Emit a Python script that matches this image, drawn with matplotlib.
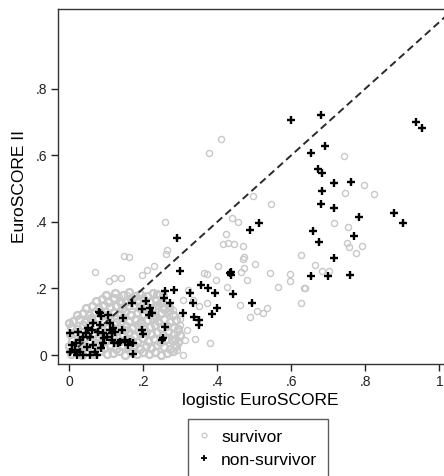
import matplotlib
matplotlib.use("Agg")
import matplotlib.pyplot as plt
from matplotlib.lines import Line2D

plt.rcParams['font.family'] = ['Liberation Sans', 'DejaVu Sans']

# ---------------- data ----------------
# survivors: scattered points
surv_sparse_x = [0.409, 0.378, 0.495, 0.544, 0.439, 0.455, 0.424, 0.415, 0.430, 0.446,
                 0.470, 0.473, 0.469, 0.403, 0.471, 0.502, 0.464, 0.364, 0.373, 0.396,
                 0.479, 0.541, 0.427, 0.565, 0.635, 0.461, 0.489, 0.508, 0.523, 0.535,
                 0.625, 0.742, 0.796, 0.824, 0.745, 0.716, 0.754, 0.751, 0.756, 0.790,
                 0.775, 0.626, 0.664, 0.684, 0.703, 0.596, 0.596, 0.636,
                 0.263, 0.261, 0.230, 0.209, 0.196, 0.308, 0.371, 0.317, 0.340, 0.380,
                 0.313, 0.290, 0.306, 0.299, 0.281, 0.259, 0.069, 0.148, 0.160, 0.108,
                 0.121, 0.141, 0.322, 0.335, 0.351, 0.285, 0.300, 0.290, 0.135, 0.155,
                 0.241]
surv_sparse_y = [0.648, 0.606, 0.478, 0.454, 0.410, 0.399, 0.362, 0.332, 0.335, 0.332,
                 0.328, 0.293, 0.287, 0.268, 0.262, 0.272, 0.248, 0.245, 0.242, 0.225,
                 0.224, 0.246, 0.203, 0.203, 0.202, 0.149, 0.115, 0.132, 0.125, 0.140,
                 0.157, 0.597, 0.511, 0.484, 0.486, 0.397, 0.383, 0.337, 0.325, 0.328,
                 0.307, 0.299, 0.269, 0.253, 0.253, 0.243, 0.221, 0.201,
                 0.315, 0.302, 0.268, 0.255, 0.240, 0.165, 0.155, 0.075, 0.047, 0.035,
                 0.045, 0.015, 0.000, 0.108, 0.135, 0.400, 0.248, 0.297, 0.295, 0.223,
                 0.230, 0.230, 0.195, 0.165, 0.147, 0.120, 0.090, 0.070, 0.175, 0.180,
                 0.180]

# survivors: the dense cluster near the origin
surv_dense_x = [
    0.005, 0.020, 0.034, 0.050, 0.068, 0.084, 0.101, 0.118, 0.134, 0.151, 0.168, 0.184, 0.199, 0.216, 0.232, 0.249, 0.264, 0.281,
    0.000, 0.014, 0.029, 0.044, 0.061, 0.078, 0.093, 0.109, 0.126, 0.142, 0.158, 0.176, 0.191, 0.207, 0.222, 0.238, 0.256, 0.271, 0.288,
    0.006, 0.022, 0.039, 0.055, 0.071, 0.087, 0.103, 0.119, 0.136, 0.152, 0.167, 0.183, 0.198, 0.214, 0.229, 0.245, 0.262, 0.277, 0.293,
    0.001, 0.016, 0.031, 0.048, 0.063, 0.080, 0.096, 0.112, 0.128, 0.144, 0.160, 0.175, 0.191, 0.206, 0.221, 0.237, 0.252, 0.268, 0.283, 0.298,
    0.004, 0.020, 0.036, 0.053, 0.070, 0.087, 0.104, 0.120, 0.137, 0.153, 0.170, 0.186, 0.201, 0.217, 0.232, 0.248, 0.263, 0.279, 0.294,
    0.000, 0.010, 0.026, 0.043, 0.060, 0.077, 0.094, 0.110, 0.127, 0.143, 0.160, 0.177, 0.193, 0.209, 0.225, 0.241, 0.257, 0.272, 0.287,
    0.022, 0.037, 0.053, 0.070, 0.088, 0.104, 0.120, 0.136, 0.151, 0.167, 0.183, 0.199, 0.215, 0.231, 0.247, 0.263, 0.279,
    0.046, 0.062, 0.078, 0.095, 0.111, 0.127, 0.143, 0.159, 0.175, 0.191, 0.207, 0.223, 0.240, 0.256, 0.270,
    0.072, 0.088, 0.104, 0.120, 0.136, 0.152, 0.168, 0.184, 0.200, 0.217, 0.233, 0.251,
    0.100, 0.124, 0.146, 0.162, 0.178, 0.190, 0.210, 0.226, 0.236, 0.252,
    0.030, 0.074, 0.115, 0.150, 0.192, 0.234, 0.270, 0.058, 0.140, 0.200, 0.245, 0.285]
surv_dense_y = [
    0.004, 0.010, 0.000, 0.008, 0.003, 0.011, 0.002, 0.007, 0.012, 0.001, 0.009, 0.004, 0.010, 0.002, 0.008, 0.000, 0.006, 0.011,
    0.026, 0.020, 0.031, 0.024, 0.018, 0.029, 0.022, 0.030, 0.019, 0.027, 0.023, 0.031, 0.018, 0.026, 0.021, 0.029, 0.024, 0.019, 0.028,
    0.045, 0.039, 0.050, 0.043, 0.048, 0.038, 0.046, 0.052, 0.041, 0.049, 0.044, 0.038, 0.051, 0.042, 0.047, 0.040, 0.049, 0.044, 0.039,
    0.063, 0.069, 0.058, 0.066, 0.060, 0.071, 0.059, 0.067, 0.072, 0.061, 0.068, 0.058, 0.065, 0.070, 0.062, 0.068, 0.059, 0.071, 0.064, 0.060,
    0.084, 0.079, 0.090, 0.083, 0.088, 0.078, 0.086, 0.092, 0.080, 0.087, 0.082, 0.091, 0.079, 0.085, 0.090, 0.081, 0.088, 0.083, 0.078,
    0.097, 0.101, 0.108, 0.099, 0.106, 0.112, 0.100, 0.107, 0.098, 0.110, 0.103, 0.109, 0.099, 0.106, 0.111, 0.102, 0.108, 0.100, 0.105,
    0.119, 0.126, 0.121, 0.130, 0.124, 0.118, 0.128, 0.122, 0.131, 0.120, 0.127, 0.123, 0.130, 0.119, 0.125, 0.129, 0.121,
    0.141, 0.147, 0.139, 0.150, 0.143, 0.148, 0.138, 0.146, 0.151, 0.140, 0.147, 0.142, 0.149, 0.139, 0.145,
    0.161, 0.167, 0.159, 0.170, 0.163, 0.158, 0.168, 0.162, 0.171, 0.160, 0.166, 0.159,
    0.181, 0.186, 0.179, 0.188, 0.176, 0.183, 0.178, 0.186, 0.184, 0.178,
    0.014, 0.036, 0.055, 0.075, 0.095, 0.115, 0.135, 0.112, 0.155, 0.137, 0.157, 0.048]

# non-survivors
nonsurv_x = [0.599, 0.680, 0.936, 0.954, 0.691, 0.653, 0.671, 0.684, 0.714, 0.761,
             0.684, 0.679, 0.714, 0.783, 0.878, 0.902, 0.659, 0.676, 0.768, 0.716,
             0.652, 0.698, 0.759,
             0.488, 0.513, 0.290, 0.299, 0.434, 0.438, 0.436, 0.443, 0.493, 0.394,
             0.374, 0.356, 0.398, 0.385, 0.351, 0.351, 0.338, 0.306, 0.326, 0.335,
             0.259, 0.284, 0.257, 0.272, 0.259, 0.254, 0.250,
             0.207, 0.196, 0.218, 0.216, 0.224, 0.196, 0.198, 0.169, 0.146, 0.117,
             0.124, 0.115, 0.142, 0.121, 0.137, 0.164, 0.173, 0.159, 0.173,
             0.002, 0.006, 0.002, 0.015, 0.029, 0.024, 0.029, 0.038, 0.051, 0.056,
             0.047, 0.065, 0.038, 0.056, 0.074, 0.078, 0.083, 0.092, 0.101, 0.110,
             0.083, 0.080, 0.087, 0.105, 0.115, 0.132, 0.151, 0.092, 0.110, 0.065,
             0.069, 0.018, 0.045, 0.062, 0.095, 0.020, 0.085]
nonsurv_y = [0.705, 0.721, 0.700, 0.681, 0.628, 0.606, 0.558, 0.546, 0.516, 0.520,
             0.492, 0.452, 0.442, 0.415, 0.425, 0.395, 0.372, 0.338, 0.358, 0.292,
             0.237, 0.237, 0.239,
             0.375, 0.396, 0.350, 0.253, 0.245, 0.240, 0.248, 0.184, 0.155, 0.185,
             0.200, 0.210, 0.140, 0.123, 0.105, 0.090, 0.115, 0.125, 0.187, 0.157,
             0.192, 0.195, 0.172, 0.157, 0.085, 0.050, 0.045,
             0.163, 0.138, 0.140, 0.120, 0.125, 0.075, 0.063, 0.157, 0.112, 0.080,
             0.070, 0.065, 0.075, 0.035, 0.040, 0.040, 0.035, 0.030, 0.003,
             0.065, 0.030, 0.010, 0.015, 0.010, 0.070, 0.045, 0.055, 0.080, 0.055,
             0.025, 0.030, 0.000, 0.000, 0.000, 0.070, 0.090, 0.065, 0.055, 0.075,
             0.125, 0.130, 0.118, 0.120, 0.045, 0.035, 0.045, 0.035, 0.095, 0.095,
             0.010, 0.035, 0.065, 0.075, 0.050, 0.000, 0.020]

x_ticks = [0, 0.2, 0.4, 0.6, 0.8, 1.0]
x_ticklabels = ['0', '.2', '.4', '.6', '.8', '1']
y_ticks = [0, 0.2, 0.4, 0.6, 0.8]
y_ticklabels = ['0', '.2', '.4', '.6', '.8']
ref_line = [0, 1.1]

# ---------------- figure ----------------
W, H = 444, 476
fig = plt.figure(figsize=(W / 100, H / 100), dpi=100)
ax = fig.add_axes([58 / W, 1 - 364 / H, (462 - 58) / W, (364 - 9) / H])

gray = '#c8c8c8'
ax.plot(surv_dense_x, surv_dense_y, linestyle='none',
        marker='o', markersize=5.0, markerfacecolor='none', markeredgecolor=gray,
        markeredgewidth=1.7, zorder=2)
ax.plot(surv_sparse_x, surv_sparse_y, linestyle='none',
        marker='o', markersize=4.4, markerfacecolor='none', markeredgecolor=gray,
        markeredgewidth=1.0, zorder=2)
ax.plot(ref_line, ref_line, color='#2a2a2a', linestyle=(0, (3.8, 2.2)), linewidth=1.4, zorder=3)
ax.plot(nonsurv_x, nonsurv_y, linestyle='none', marker='+', markersize=5.6,
        markeredgecolor='black', markeredgewidth=1.7, zorder=4)

ax.set_xlim(-0.0305, 1.061)
ax.set_ylim(-0.027, 1.039)
ax.set_xticks(x_ticks)
ax.set_xticklabels(x_ticklabels)
ax.set_yticks(y_ticks)
ax.set_yticklabels(y_ticklabels)
ax.tick_params(direction='out', length=5, width=1, colors='#222222', labelsize=10, pad=3)
for s in ax.spines.values():
    s.set_color('#333333')
    s.set_linewidth(1.0)

ax.set_xlabel('logistic EuroSCORE', fontsize=12.5, labelpad=3)
ax.set_ylabel('EuroSCORE II', fontsize=12.5, labelpad=6)

handles = [Line2D([], [], linestyle='none', marker='o', markersize=3.5, markerfacecolor='none',
                  markeredgecolor=gray, markeredgewidth=0.9),
           Line2D([], [], linestyle='none', marker='+', markersize=5, markeredgecolor='black',
                  markeredgewidth=1.3)]
leg = fig.legend(handles, ['survivor', 'non-survivor'], loc='upper left',
                 bbox_to_anchor=(188 / W, 1 - 419 / H), bbox_transform=fig.transFigure,
                 fontsize=12.5, frameon=True, fancybox=False, borderpad=0.6,
                 handlelength=0.6, handletextpad=0.7, labelspacing=0.45, borderaxespad=0)
leg.get_frame().set_edgecolor('#333333')
leg.get_frame().set_linewidth(1.0)

fig.savefig('out.png', dpi=100)
